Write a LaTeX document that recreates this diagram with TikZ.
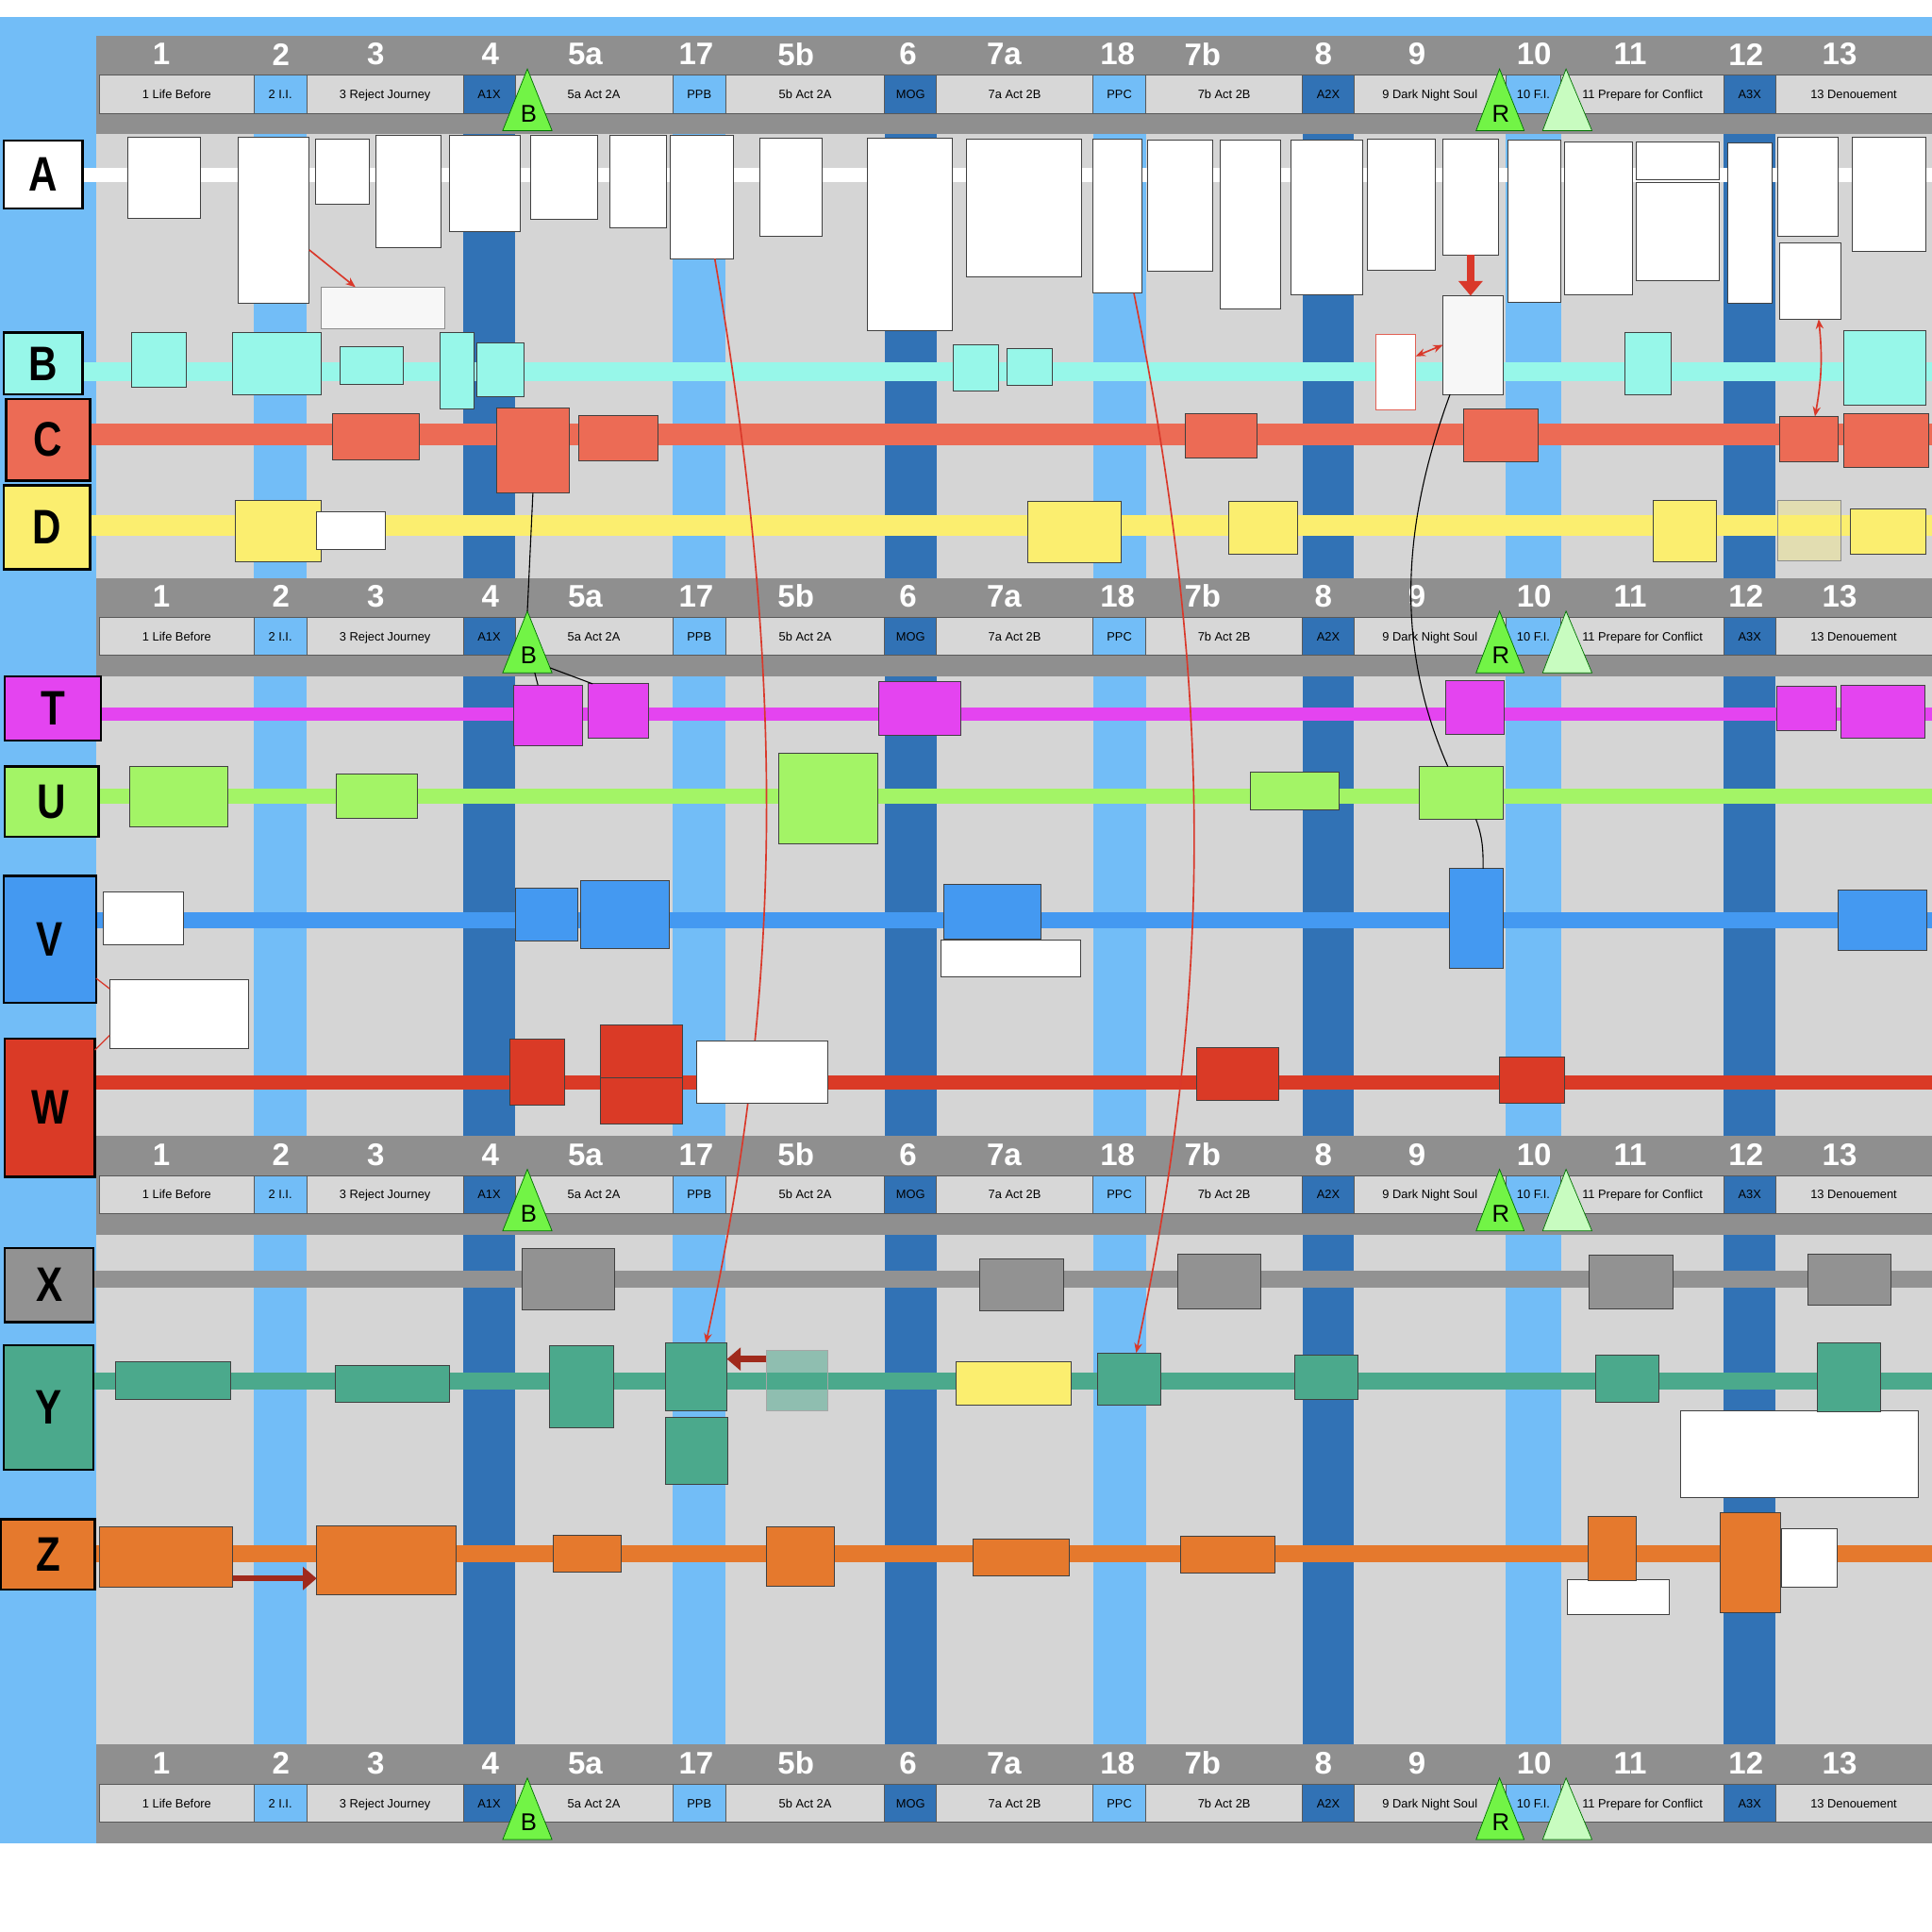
\documentclass[tikz,border=0pt]{standalone}
\usepackage{fontspec}
\setmainfont{Liberation Sans}
\usepackage{tikz}
\usetikzlibrary{positioning,fit,calc,arrows.meta}
\definecolor{skyblue}{RGB}{114,189,247}
\definecolor{deepblue}{RGB}{49,114,181}
\definecolor{lanegray}{RGB}{213,213,213}
\definecolor{hdrgray}{RGB}{143,143,143}
\definecolor{subgray}{RGB}{215,215,215}
\definecolor{laneB}{RGB}{151,247,233}
\definecolor{laneC}{RGB}{236,107,85}
\definecolor{laneD}{RGB}{251,238,111}
\definecolor{laneT}{RGB}{228,68,240}
\definecolor{laneU}{RGB}{163,244,102}
\definecolor{laneV}{RGB}{68,153,241}
\definecolor{laneW}{RGB}{218,58,38}
\definecolor{laneX}{RGB}{146,146,146}
\definecolor{laneY}{RGB}{75,169,140}
\definecolor{laneZ}{RGB}{229,121,45}
\definecolor{beatgreen}{RGB}{114,244,70}
\definecolor{palegreen}{RGB}{200,252,192}
\definecolor{linkred}{RGB}{217,56,42}
\definecolor{darkred}{RGB}{160,42,28}

\newcommand{\lanetag}[1]{\scalebox{0.82}[1]{#1}}

\begin{document}
\begin{tikzpicture}[x=0.25mm, y=-0.25mm,
    bx/.style={draw=black!75, line width=0.5pt, inner sep=0pt, outer sep=0pt},
    tag/.style={draw=black, line width=1.3pt, inner sep=0pt, outer sep=0pt},
    tagtext/.style={inner sep=0pt, font=\fontsize{28}{28}\selectfont\bfseries},
    subp/.style={draw=black!65, line width=0.5pt, fill=subgray, inner sep=0pt},
    subl/.style={subp, fill=skyblue},
    subd/.style={subp, fill=deepblue},
    subtext/.style={inner sep=0pt, text height=5pt, text depth=0pt, font=\fontsize{7}{7}\selectfont},
    colnum/.style={text=white, inner sep=0pt, font=\fontsize{18}{18}\selectfont\bfseries},
    tri/.style={draw=green!45!black, line width=0.4pt},
    trilab/.style={inner sep=0pt, font=\fontsize{14}{14}\selectfont},
    redlink/.style={draw=linkred, line width=0.9pt, -{Stealth[length=2mm,width=1.6mm]}},
    redboth/.style={draw=linkred, line width=0.9pt, {Stealth[length=2mm,width=1.6mm]}-{Stealth[length=2mm,width=1.6mm]}},
    thinred/.style={draw=linkred, line width=0.7pt},
    bigarrow/.style={draw=linkred, line width=4.5pt, -{Triangle[length=3mm,width=4.8mm]}},
    fatarrow/.style={draw=darkred, line width=3.5pt, -{Triangle[length=2.8mm,width=4.6mm]}},
    blackline/.style={draw=black, line width=0.6pt}
  ]
  \useasboundingbox (0,0) rectangle (1568,1568);
  % background
  \fill[white] (0,0) rectangle (1568,1568);
  \fill[skyblue] (0,14) rectangle (1568,1496);
  \fill[lanegray] (78,29) rectangle (1568,1496);
  % column stripes
  \foreach \xa/\xb/\c in {206/249/skyblue, 546/589/skyblue, 887/930/skyblue, 1222/1267/skyblue,
      376/418/deepblue, 718/760/deepblue, 1057/1099/deepblue, 1399/1441/deepblue}
    \fill[\c] (\xa,100) rectangle (\xb,1420);
  % lane bands
  \fill[white] (40,136) rectangle (1568,148);
  \fill[laneB] (40,294) rectangle (1568,309);
  \fill[laneC] (40,344) rectangle (1568,361);
  \fill[laneD] (40,418) rectangle (1568,435);
  \fill[laneT] (40,574) rectangle (1568,585);
  \fill[laneU] (40,640) rectangle (1568,652);
  \fill[laneV] (40,740) rectangle (1568,753);
  \fill[laneW] (40,873) rectangle (1568,884);
  \fill[laneX] (40,1031) rectangle (1568,1045);
  \fill[laneY] (40,1114) rectangle (1568,1128);
  \fill[laneZ] (40,1254) rectangle (1568,1268);
  % headers
  \foreach \h [count=\n] in {29,469,922,1416} {
    \fill[hdrgray] (78,\h) rectangle (1568,\h+80);
    \foreach \xa/\xb/\nx/\nm/\lab/\kind in {81/206/131/1/1 Life Before/p,
        206/249/228/2/2 I.I./l,
        249/376/305/3/3 Reject Journey/p,
        376/418/398/4/A1X/d,
        418/546/475/5a/5a Act 2A/p,
        546/589/565/17/PPB/l,
        589/718/646/5b/5b Act 2A/p,
        718/760/737/6/MOG/d,
        760/887/815/7a/7a Act 2B/p,
        887/930/907/18/PPC/l,
        930/1057/976/7b/7b Act 2B/p,
        1057/1099/1074/8/A2X/d,
        1099/1222/1150/9/9 Dark Night Soul/p,
        1222/1267/1245/10/10 F.I./l,
        1267/1399/1323/11/11 Prepare for Conflict/p,
        1399/1441/1417/12/A3X/d,
        1441/1568/1493/13/13 Denouement/p} {
      \node[sub\kind, fit={(\xa,\h+32) (\xb,\h+63)}] (s\n-\nm) {};
      \node[subtext, text=\ifx\kind d white\else black\fi] (l\n-\nm) at (s\n-\nm) {\lab};
      \node[colnum] (n\n-\nm) at (\nx,\h+15) {\nm};
    }
    % beat markers
    \draw[tri, fill=beatgreen] (408,\h+77) -- (428,\h+27) -- (448,\h+77) -- cycle;
    \coordinate (bt\n) at (428,\h+27);
    \coordinate (bl\n) at (408,\h+77);
    \coordinate (br\n) at (448,\h+77);
    \node[trilab] (tb\n) at (429,\h+63) {B};
    \draw[tri, fill=beatgreen] (1198,\h+77) -- (1217,\h+27) -- (1237,\h+77) -- cycle;
    \node[trilab] (tr\n) at (1218,\h+63) {R};
    \draw[tri, fill=palegreen] (1252,\h+77) -- (1271,\h+27) -- (1292,\h+77) -- cycle;
  }
  % lane tags
  \foreach \t/\c/\xa/\ya/\xb/\yb in {A/white/3/114/67/169, B/laneB/3/270/67/320,
      C/laneC/5/324/73/390, D/laneD/3/394/73/462, T/laneT/4/549/82/601,
      U/laneU/4/622/80/679, V/laneV/3/711/78/814, W/laneW/4/843/77/955,
      X/laneX/4/1013/76/1073, Y/laneY/3/1092/76/1193, Z/laneZ/1/1233/77/1290} {
    \node[tag, fill=\c, fit={(\xa,\ya) (\xb,\yb)}] (lab\t) {};
    \node[tagtext] (tag\t) at (lab\t) {\lanetag{\t}};
  }
  % lane A
  \node[bx, fill=white, fit={(104,111) (163,177)}] (a1) {};
  \node[bx, fill=white, fit={(193,111) (251,246)}] (a2) {};
  \node[bx, fill=white, fit={(256,113) (300,166)}] (a3) {};
  \node[bx, fill=white, fit={(305,110) (358,201)}] (a4) {};
  \node[bx, fill=white, fit={(365,110) (422,188)}] (a5) {};
  \node[bx, fill=white, fit={(431,110) (485,178)}] (a6) {};
  \node[bx, fill=white, fit={(495,110) (541,185)}] (a7) {};
  \node[bx, fill=white, fit={(544,110) (595,210)}] (a8) {};
  \node[bx, fill=white, fit={(617,112) (667,192)}] (a9) {};
  \node[bx, fill=white, fit={(704,112) (773,268)}] (a10) {};
  \node[bx, fill=white, fit={(784,113) (878,225)}] (a11) {};
  \node[bx, fill=white, fit={(887,113) (927,238)}] (a12) {};
  \node[bx, fill=white, fit={(931,114) (984,220)}] (a13) {};
  \node[bx, fill=white, fit={(990,114) (1039,251)}] (a14) {};
  \node[bx, fill=white, fit={(1048,114) (1106,239)}] (a15) {};
  \node[bx, fill=white, fit={(1110,113) (1165,219)}] (a16) {};
  \node[bx, fill=white, fit={(1171,113) (1216,207)}] (a17) {};
  \node[bx, fill=white, fit={(1224,114) (1267,245)}] (a18) {};
  \node[bx, fill=white, fit={(1270,115) (1325,239)}] (a19) {};
  \node[bx, fill=white, fit={(1328,115) (1395,146)}] (a20) {};
  \node[bx, fill=white, fit={(1328,148) (1395,228)}] (a21) {};
  \node[bx, fill=white, fit={(1402,116) (1438,246)}] (a22) {};
  \node[bx, fill=white, fit={(1443,111) (1492,192)}] (a23) {};
  \node[bx, fill=white, fit={(1444,197) (1494,259)}] (a24) {};
  \node[bx, fill=white, fit={(1503,111) (1563,204)}] (a25) {};
  \node[bx, draw=black!45, fill=white!97!black, fit={(261,233) (361,267)}] (a26) {};
  % lane B
  \node[bx, fill=laneB, fit={(107,270) (151,314)}] (b1) {};
  \node[bx, fill=laneB, fit={(189,270) (261,320)}] (b2) {};
  \node[bx, fill=laneB, fit={(276,281) (327,312)}] (b3) {};
  \node[bx, fill=laneB, fit={(357,270) (385,332)}] (b4) {};
  \node[bx, fill=laneB, fit={(387,278) (425,322)}] (b5) {};
  \node[bx, fill=laneB, fit={(774,280) (810,317)}] (b6) {};
  \node[bx, fill=laneB, fit={(817,283) (854,313)}] (b7) {};
  \node[bx, draw=linkred!80, fill=white, fit={(1117,271) (1149,333)}] (b8) {};
  \node[bx, fill=white!97!black, fit={(1171,240) (1220,320)}] (b9) {};
  \node[bx, fill=laneB, fit={(1319,270) (1356,320)}] (b10) {};
  \node[bx, fill=laneB, fit={(1496,268) (1563,329)}] (b11) {};
  % lane C
  \node[bx, fill=laneC, fit={(270,336) (340,373)}] (c1) {};
  \node[bx, fill=laneC, fit={(403,331) (462,400)}] (c2) {};
  \node[bx, fill=laneC, fit={(470,337) (534,374)}] (c3) {};
  \node[bx, fill=laneC, fit={(962,336) (1020,372)}] (c4) {};
  \node[bx, fill=laneC, fit={(1188,332) (1248,375)}] (c5) {};
  \node[bx, fill=laneC, fit={(1444,338) (1492,375)}] (c6) {};
  \node[bx, fill=laneC, fit={(1496,336) (1565,379)}] (c7) {};
  % lane D
  \node[bx, fill=laneD, fit={(191,406) (261,456)}] (d1) {};
  \node[bx, fill=white, fit={(257,415) (313,446)}] (d2) {};
  \node[bx, fill=laneD, fit={(834,407) (910,457)}] (d3) {};
  \node[bx, fill=laneD, fit={(997,407) (1053,450)}] (d4) {};
  \node[bx, fill=laneD, fit={(1342,406) (1393,456)}] (d5) {};
  \node[bx, draw=black!45, fill=laneD, fill opacity=0.35, fit={(1443,406) (1494,455)}] (d6) {};
  \node[bx, fill=laneD, fit={(1502,413) (1563,450)}] (d7) {};
  % lane T
  \node[bx, fill=laneT, fit={(417,556) (473,605)}] (t1) {};
  \node[bx, fill=laneT, fit={(477,555) (526,599)}] (t2) {};
  \node[bx, fill=laneT, fit={(713,553) (780,597)}] (t3) {};
  \node[bx, fill=laneT, fit={(1173,552) (1221,596)}] (t4) {};
  \node[bx, fill=laneT, fit={(1442,557) (1490,593)}] (t5) {};
  \node[bx, fill=laneT, fit={(1494,556) (1562,599)}] (t6) {};
  % lane U
  \node[bx, fill=laneU, fit={(105,622) (185,671)}] (u1) {};
  \node[bx, fill=laneU, fit={(273,628) (339,664)}] (u2) {};
  \node[bx, fill=laneU, fit={(632,611) (712,685)}] (u3) {};
  \node[bx, fill=laneU, fit={(1015,627) (1087,657)}] (u4) {};
  \node[bx, fill=laneU, fit={(1152,622) (1220,665)}] (u5) {};
  % lane V
  \node[bx, fill=white, fit={(84,724) (149,767)}] (v1) {};
  \node[bx, fill=white, fit={(89,795) (202,851)}] (v2) {};
  \node[bx, fill=laneV, fit={(418,721) (469,764)}] (v3) {};
  \node[bx, fill=laneV, fit={(471,715) (543,770)}] (v4) {};
  \node[bx, fill=laneV, fit={(766,718) (845,762)}] (v5) {};
  \node[bx, fill=white, fit={(764,763) (877,793)}] (v6) {};
  \node[bx, fill=laneV, fit={(1176,705) (1220,786)}] (v7) {};
  \node[bx, fill=laneV, fit={(1492,722) (1564,771)}] (v8) {};
  % lane X
  \node[bx, fill=laneX, fit={(424,1013) (499,1063)}] (x1) {};
  \node[bx, fill=laneX, fit={(795,1022) (863,1064)}] (x2) {};
  \node[bx, fill=laneX, fit={(956,1018) (1023,1062)}] (x3) {};
  \node[bx, fill=laneX, fit={(1290,1019) (1358,1062)}] (x4) {};
  \node[bx, fill=laneX, fit={(1467,1018) (1535,1059)}] (x5) {};
  % lane Y
  \node[bx, fill=laneY, fit={(94,1105) (187,1136)}] (y1) {};
  \node[bx, fill=laneY, fit={(272,1108) (365,1138)}] (y2) {};
  \node[bx, fill=laneY, fit={(446,1092) (498,1159)}] (y3) {};
  \node[bx, fill=laneY, fit={(540,1090) (590,1145)}] (y4) {};
  \node[bx, fill=laneY, fit={(540,1150) (591,1205)}] (y5) {};
  \node[bx, draw=black!35, fill=laneY, fill opacity=0.5, fit={(622,1096) (672,1145)}] (y6) {};
  \node[bx, fill=laneD, fit={(776,1105) (869,1140)}] (y7) {};
  \node[bx, fill=laneY, fit={(891,1098) (942,1140)}] (y8) {};
  \node[bx, fill=laneY, fit={(1051,1100) (1102,1136)}] (y9) {};
  \node[bx, fill=laneY, fit={(1295,1100) (1346,1138)}] (y10) {};
  \node[bx, fill=white, fit={(1364,1145) (1557,1215)}] (y11) {};
  \node[bx, fill=laneY, fit={(1475,1090) (1526,1146)}] (y12) {};
  % lane Z
  \node[bx, fill=laneZ, fit={(81,1239) (189,1288)}] (z1) {};
  \node[bx, fill=laneZ, fit={(257,1238) (370,1294)}] (z2) {};
  \node[bx, fill=laneZ, fit={(449,1246) (504,1276)}] (z3) {};
  \node[bx, fill=laneZ, fit={(622,1239) (677,1287)}] (z4) {};
  \node[bx, fill=laneZ, fit={(790,1249) (868,1279)}] (z5) {};
  \node[bx, fill=laneZ, fit={(958,1247) (1035,1277)}] (z6) {};
  \node[bx, fill=white, fit={(1272,1282) (1355,1310)}] (z7) {};
  \node[bx, fill=laneZ, fit={(1289,1231) (1328,1283)}] (z8) {};
  \node[bx, fill=laneZ, fit={(1396,1228) (1445,1309)}] (z9) {};
  \node[bx, fill=white, fit={(1446,1241) (1491,1288)}] (z10) {};
  % long links down to lane Y
  \draw[redlink] (a8.-78) .. controls (640,560) and (634,810) .. (y4.74);
  \draw[redlink] (a12.-78) .. controls (985,560) and (985,800) .. (y8.75);
  % lane W
  \node[bx, fill=laneW, fit={(414,843) (458,897)}] (w1) {};
  \node[bx, fill=laneW, fit={(487,832) (554,875)}] (w2) {};
  \node[bx, fill=laneW, fit={(487,875) (554,912)}] (w3) {};
  \node[bx, fill=white, fit={(565,845) (672,895)}] (w4) {};
  \node[bx, fill=laneW, fit={(971,850) (1038,893)}] (w5) {};
  \node[bx, fill=laneW, fit={(1217,858) (1270,895)}] (w6) {};
  % links
  \draw[redlink] (a2.-40) -- (a26.143);
  \draw[bigarrow] (a17.south) -- (a17.south |- b9.north);
  \draw[redboth] (b8.39) -- (b9.west);
  \draw[redboth] ($(a24.south)+(7,0)$) to[bend left=8] ($(c6.north)+(5,0)$);
  \draw[blackline] (c2.south) -- (bt2);
  \draw[blackline] ($(bl2)!0.65!(br2)$) -- (t1.109);
  \draw[blackline] ($(bt2)!0.92!(br2)$) -- (t2.133);
  \draw[blackline] (b9.-115) .. controls (1140,420) and (1130,520) .. (u5.117);
  \draw[blackline] (u5.-61) to[out=-70,in=90] (v7.82);
  \draw[thinred] (labV.-40) -- (v2.160);
  \draw[thinred] (v2.-163) -- (labW.52);
  \draw[fatarrow] (y6.145) -- (y6.145 -| y4.east);
  \draw[fatarrow] (z1.-18) -- (z1.-18 -| z2.west);
\end{tikzpicture}
\end{document}
